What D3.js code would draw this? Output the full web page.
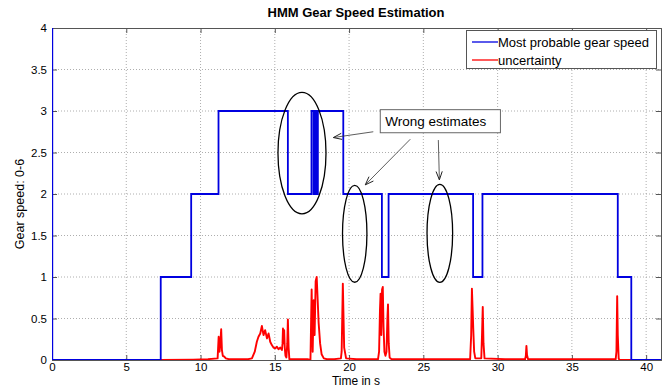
<!DOCTYPE html>
<html><head><meta charset="utf-8">
<script src="https://cdn.jsdelivr.net/npm/d3@7"></script>
<style>
html,body{margin:0;padding:0;background:#fff;}
svg{display:block;font-family:"Liberation Sans",Arial,Helvetica,sans-serif;}
</style></head>
<body><svg id="c" width="672" height="389"></svg>
<script>
// ---- data ----
const xTicks = [0,5,10,15,20,25,30,35,40];
const yTicks = [0,0.5,1,1.5,2,2.5,3,3.5,4];
// gear estimate: change points (time, gear), step-after
const gearTime  = [0, 0.02, 7.32, 9.37, 11.21, 15.88, 17.47, 17.61, 17.70, 17.78, 17.90, 19.61, 22.21, 22.66, 28.35, 28.98, 38.09, 39.0, 41];
const gearValue = [6, 0,    1,    2,    3,     2,     3,     2,     3,     2,     3,     2,     1,     2,     1,     2,     1,     0,    0];
// uncertainty samples
const uncTime = [0, 7.3, 9.5, 10.5, 11.15, 11.22, 11.28, 11.33, 11.39, 11.44, 11.5, 11.6, 11.7, 11.9, 12.5, 13.2, 13.46, 13.65, 13.79, 13.9, 14.02, 14.13, 14.24, 14.35, 14.47, 14.58, 14.69, 14.8, 14.91, 15.03, 15.14, 15.25, 15.36, 15.48, 15.52, 15.55, 15.59, 15.63, 15.67, 15.72, 15.78, 15.84, 15.88, 15.93, 15.98,
  16.5, 17.2, 17.40, 17.48, 17.55, 17.62, 17.68, 17.75, 17.82, 17.88, 17.95, 18.05, 18.15, 18.3, 18.5, 19.0, 19.45, 19.5, 19.58, 19.67, 19.8, 20.5, 21.5, 21.95, 22.02, 22.08, 22.12, 22.17, 22.22, 22.27, 22.32, 22.38, 22.45, 22.52, 22.58, 22.62, 22.67, 22.73, 22.85,
  24, 26, 28.15, 28.22, 28.27, 28.32, 28.36, 28.42, 28.5, 28.9, 28.95, 29.0, 29.05, 29.12, 30.5, 31.85, 31.9, 31.94, 31.98, 32.05, 34, 36, 37.95, 38.0, 38.05, 38.09, 38.15, 38.2, 40, 41];
const uncValue = [0, 0, 0.005, 0.01, 0.02, 0.28, 0.1, 0.2, 0.37, 0.12, 0.05, 0.04, 0.02, 0.01, 0.01, 0.01, 0.02, 0.1, 0.22, 0.28, 0.32, 0.41, 0.30, 0.36, 0.26, 0.32, 0.22, 0.18, 0.15, 0.14, 0.16, 0.13, 0.15, 0.12, 0.2, 0.38, 0.2, 0.36, 0.15, 0.05, 0.03, 0.2, 0.49, 0.15, 0.01,
  0.01, 0.01, 0.0, 0.85, 0.1, 0.72, 0.3, 0.95, 1.0, 0.75, 0.45, 0.2, 0.07, 0.02, 0.01, 0.01, 0.02, 0.1, 0.92, 0.15, 0.02, 0.01, 0.01, 0.01, 0.1, 0.6, 0.8, 0.3, 0.85, 0.88, 0.4, 0.1, 0.05, 0.1, 0.5, 0.67, 0.2, 0.03, 0.01,
  0.01, 0.01, 0.01, 0.3, 0.86, 0.6, 0.38, 0.1, 0.02, 0.02, 0.3, 0.64, 0.2, 0.02, 0.01, 0.01, 0.05, 0.17, 0.06, 0.01, 0.01, 0.01, 0.01, 0.1, 0.77, 0.3, 0.02, 0.0, 0.0, 0.0];
const seriesNames = ["Most probable gear speed", "uncertainty"];
// annotations (data coordinates)
const ellipseCx = [16.83, 20.38, 26.11];
const ellipseCy = [2.493, 1.52, 1.526];
const ellipseRx = [1.617, 0.822, 0.862];
const ellipseRy = [0.732, 0.583, 0.591];
const arrowFrom = [[21.63, 2.75], [24.12, 2.66], [26.01, 2.65]];
const arrowTo   = [[18.94, 2.68], [21.09, 2.11], [26.08, 2.17]];
const noteText = "Wrong estimates";
const noteBox = [22.10, 3.016, 30.19, 2.738];

// ---- chart ----
const svg = d3.select("#c");
const L = 52, R = 661, T = 28, B = 360;
const x = d3.scaleLinear().domain([0, 41]).range([L, R]);
const y = d3.scaleLinear().domain([0, 4]).range([B, T]);
const axisColor = "#555";

svg.append("text").attr("x", 356).attr("y", 17).attr("text-anchor", "middle")
  .attr("font-size", 13).attr("font-weight", "bold").text("HMM Gear Speed Estimation");

// grid
const g = svg.append("g");
g.selectAll(".gx").data(xTicks.filter(d => d > 0)).join("line")
  .attr("x1", d => x(d)).attr("x2", d => x(d)).attr("y1", T).attr("y2", B)
  .attr("stroke", "#999").attr("stroke-width", 0.8).attr("stroke-dasharray", "1,2");
g.selectAll(".gy").data(yTicks.filter(d => d > 0 && d < 4)).join("line")
  .attr("x1", L).attr("x2", R).attr("y1", d => y(d)).attr("y2", d => y(d))
  .attr("stroke", "#999").attr("stroke-width", 0.8).attr("stroke-dasharray", "1,2");

// axes with inward ticks
const ax = d3.axisBottom(x).tickValues(xTicks).tickSize(-5).tickPadding(3).tickFormat(d3.format("d"));
const ay = d3.axisLeft(y).tickValues(yTicks).tickSize(-5).tickPadding(5).tickFormat(d => d);
const gxA = svg.append("g").attr("transform", `translate(0,${B})`).call(ax);
const gyA = svg.append("g").attr("transform", `translate(${L},0)`).call(ay);
const gxT = svg.append("g").attr("transform", `translate(0,${T})`).call(d3.axisTop(x).tickValues(xTicks).tickSize(-5).tickFormat(""));
const gyR = svg.append("g").attr("transform", `translate(${R},0)`).call(d3.axisRight(y).tickValues(yTicks).tickSize(-5).tickFormat(""));
[gxA, gyA, gxT, gyR].forEach(a => {
  a.selectAll("path").attr("stroke", axisColor);
  a.selectAll("line").attr("stroke", axisColor);
  a.selectAll("text").attr("font-size", 11.5).attr("fill", "#000")
    .attr("font-family", "'Liberation Sans',Arial,sans-serif");
});

svg.append("text").attr("x", 356).attr("y", 385).attr("text-anchor", "middle")
  .attr("font-size", 12).text("Time in s");
svg.append("text").attr("transform", `translate(24,${(T + B) / 2 + 10}) rotate(-90)`)
  .attr("text-anchor", "middle").attr("font-size", 12.5).text("Gear speed: 0-6");

// clip
svg.append("clipPath").attr("id", "clip").append("rect")
  .attr("x", L).attr("y", T).attr("width", R - L).attr("height", B - T);

const unc = uncTime.map((t, i) => [t, uncValue[i]]);
const gear = gearTime.map((t, i) => [t, gearValue[i]]);
const plot = svg.append("g").attr("clip-path", "url(#clip)");
plot.append("path").datum(unc)
  .attr("d", d3.line().x(d => x(d[0])).y(d => y(d[1])))
  .attr("fill", "none").attr("stroke", "#f00").attr("stroke-width", 1.9).attr("stroke-linejoin", "round");
plot.append("path").datum(gear)
  .attr("d", d3.line().curve(d3.curveStepAfter).x(d => x(d[0])).y(d => y(d[1])))
  .attr("fill", "none").attr("stroke", "#0000e0").attr("stroke-width", 1.8);

// annotations
const ann = svg.append("g");
ellipseCx.forEach((cx, i) => {
  ann.append("ellipse").attr("cx", x(cx)).attr("cy", y(ellipseCy[i]))
    .attr("rx", x(ellipseRx[i]) - x(0)).attr("ry", y(0) - y(ellipseRy[i]))
    .attr("fill", "none").attr("stroke", "#000").attr("stroke-width", 1.3);
});
arrowFrom.forEach((f, i) => {
  const x1 = x(f[0]), y1 = y(f[1]), x2 = x(arrowTo[i][0]), y2 = y(arrowTo[i][1]);
  ann.append("line").attr("x1", x1).attr("y1", y1).attr("x2", x2).attr("y2", y2)
    .attr("stroke", "#333").attr("stroke-width", 0.8);
  const a = Math.atan2(y2 - y1, x2 - x1), len = 9, w = 0.35;
  const p1 = [x2 - len * Math.cos(a - w), y2 - len * Math.sin(a - w)];
  const p2 = [x2 - len * Math.cos(a + w), y2 - len * Math.sin(a + w)];
  ann.append("path").attr("d", `M${p1}L${x2},${y2}L${p2}`)
    .attr("fill", "none").attr("stroke", "#222").attr("stroke-width", 1);
});
ann.append("rect").attr("x", x(noteBox[0])).attr("y", y(noteBox[1]))
  .attr("width", x(noteBox[2]) - x(noteBox[0])).attr("height", y(noteBox[3]) - y(noteBox[1]))
  .attr("fill", "#fff").attr("stroke", "#666").attr("stroke-width", 1);
ann.append("text").attr("x", x(noteBox[0]) + 5).attr("y", (y(noteBox[1]) + y(noteBox[3])) / 2 + 5)
  .attr("font-size", 13.5).text(noteText);

// legend
const lg = svg.append("g");
lg.append("rect").attr("x", 466.5).attr("y", 30.5).attr("width", 190).attr("height", 38)
  .attr("fill", "#fff").attr("stroke", "#555").attr("stroke-width", 1);
const lc = ["#0000e0", "#f00"];
seriesNames.forEach((n, i) => {
  const yy = 42 + i * 18;
  lg.append("line").attr("x1", 472).attr("x2", 498).attr("y1", yy).attr("y2", yy)
    .attr("stroke", lc[i]).attr("stroke-width", 1.3);
  lg.append("text").attr("x", 498).attr("y", yy + 5).attr("font-size", 13).text(n);
});
</script></body></html>
